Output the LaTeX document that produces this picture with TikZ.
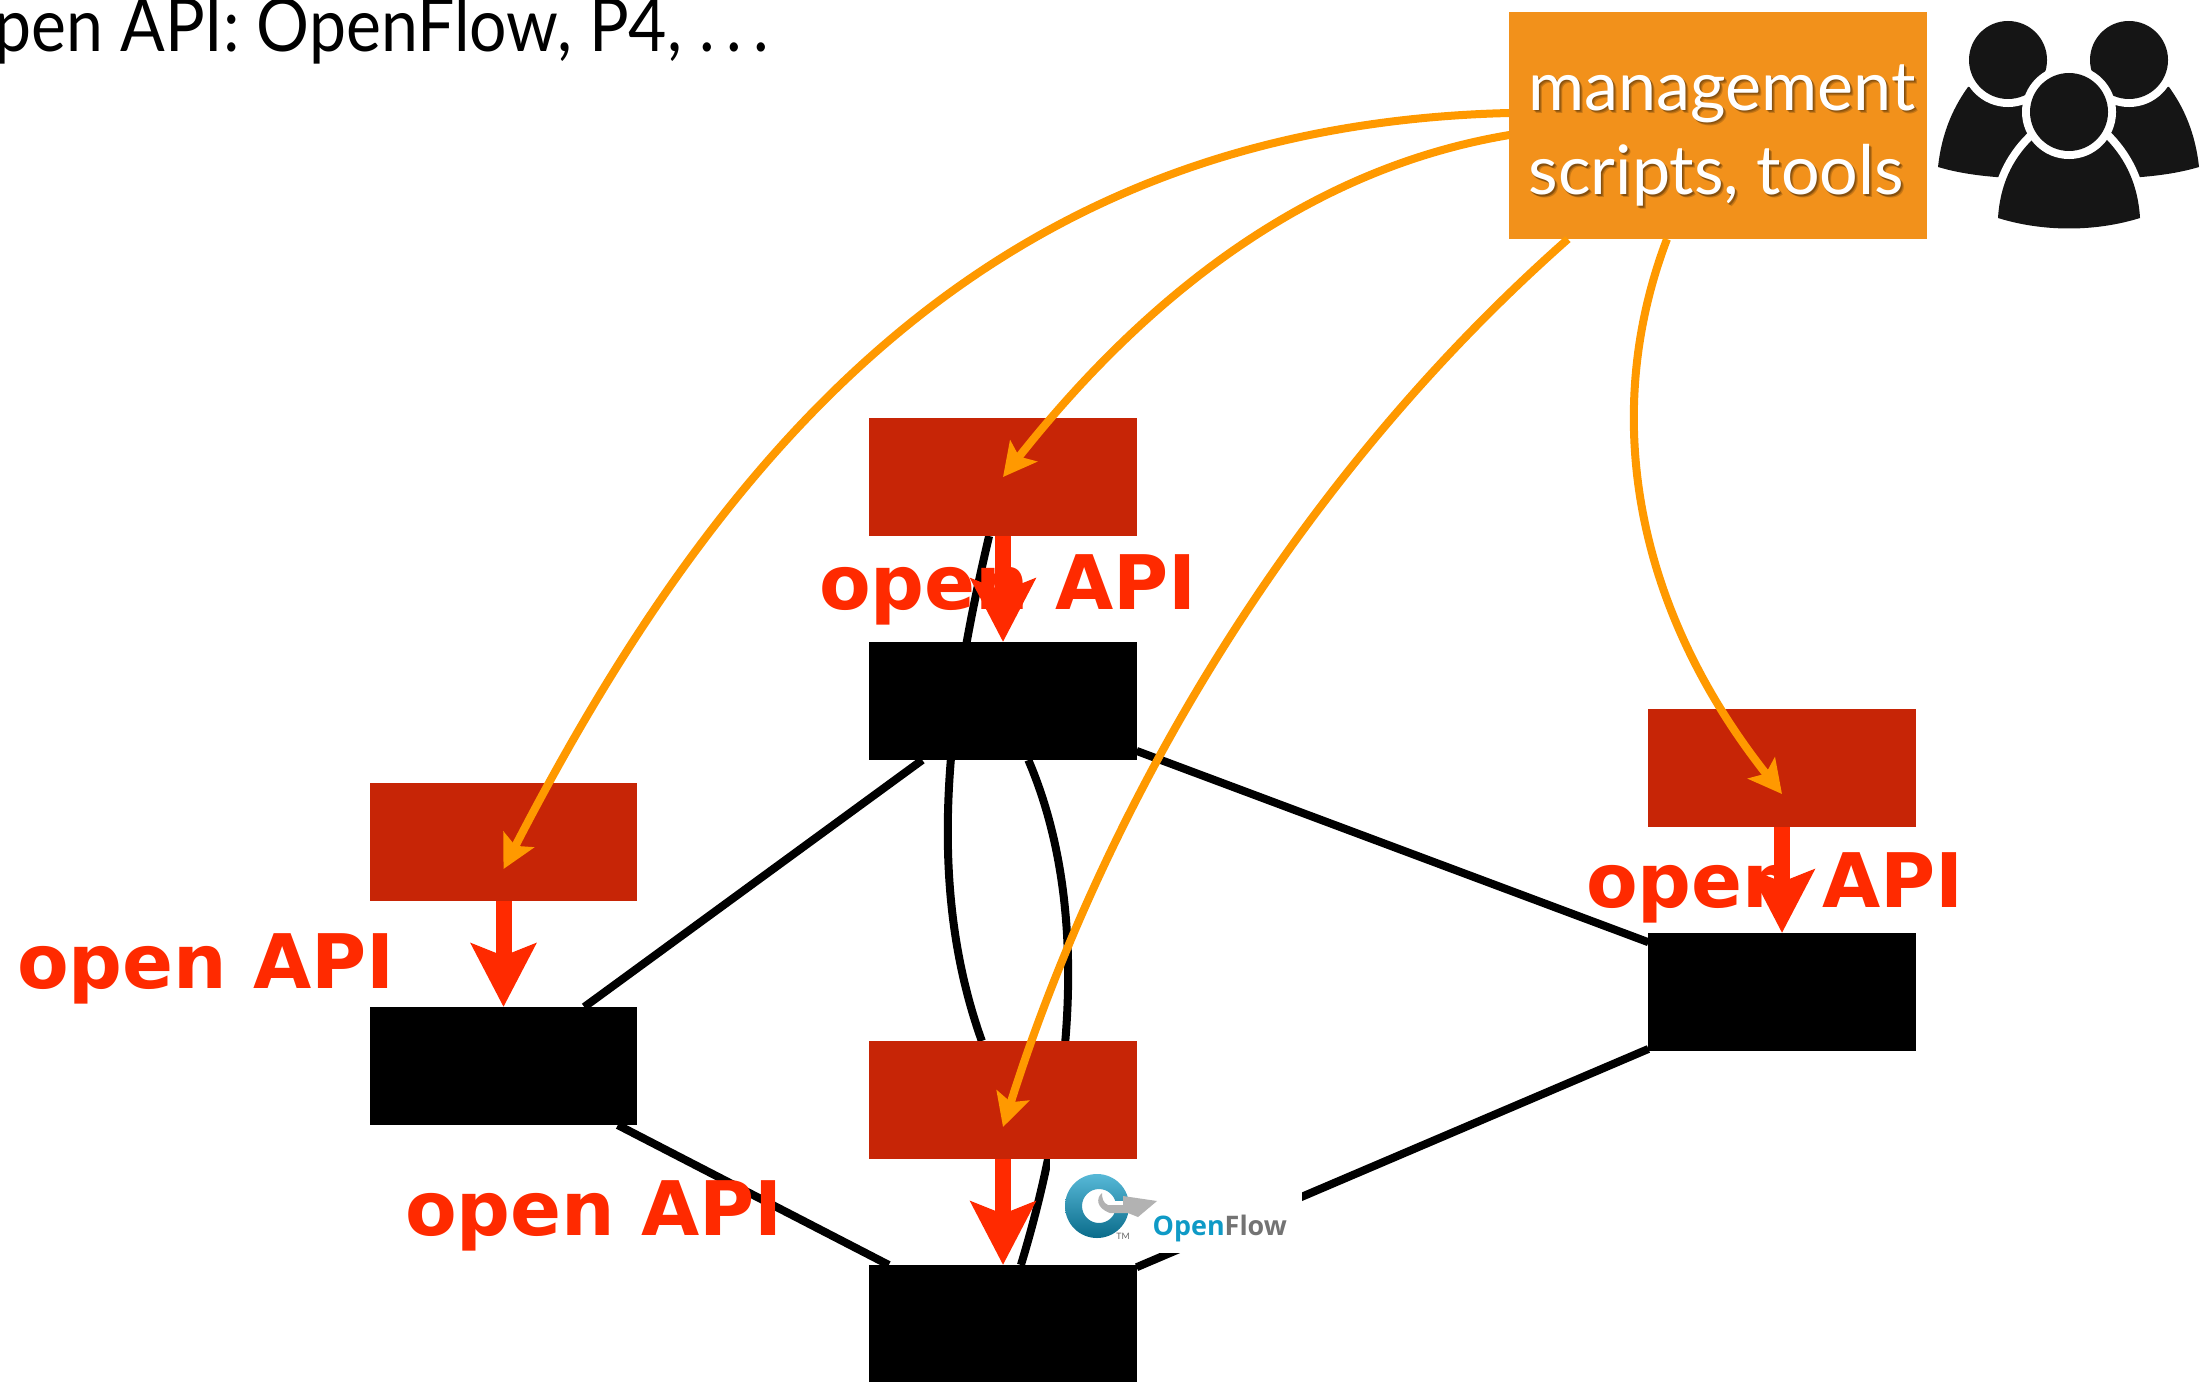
\documentclass[tikz,border=0pt]{standalone}
\usepackage{fontspec}
\setmainfont{Lato}
\newfontfamily\titlefont[FakeStretch=0.895]{Lato}
\newfontfamily\apifont{DejaVu Sans}
\newfontfamily\logofont{Open Sans}
\usetikzlibrary{arrows.meta,backgrounds}
\definecolor{ctrlred}{HTML}{C72506}
\definecolor{apired}{HTML}{FF2A00}
\definecolor{mgmtorange}{HTML}{F2911B}
\definecolor{callorange}{HTML}{FF9900}
\definecolor{logoblue}{HTML}{0F9AC6}
\definecolor{persondark}{HTML}{151515}
\tikzset{
  ctrlbox/.style={fill=ctrlred, inner sep=0, outer sep=0, minimum width=2.67cm, minimum height=1.18cm},
  swbox/.style={fill=black, inner sep=0, outer sep=0, minimum width=2.67cm, minimum height=1.18cm},
  netlink/.style={line width=0.08cm, black},
  apiarrow/.style={line width=0.16cm, apired, -{Stealth[length=0.63cm, width=0.64cm, inset=0.12cm]}},
  callarrow/.style={line width=0.08cm, callorange, -{Stealth[length=0.33cm, width=0.34cm, inset=0.07cm]}},
  apilabel/.style={apired, anchor=base, inner sep=0, font=\apifont\bfseries\fontsize{21.4}{25}\selectfont},
  mgmttext/.style={anchor=base west, inner sep=0, align=left, font=\fontsize{19.4}{24.1}\selectfont},
  personfill/.style={fill=persondark, preaction={draw=white, line width=0.16cm}}
}
\begin{document}
\begin{tikzpicture}[x=0.01cm, y=-0.01cm]
\useasboundingbox (0, 0) rectangle (2203, 1382);
%Boxes
\node[ctrlbox] (ctrltop) at (1003, 477) {};
\node[swbox] (swtop) at (1003, 701) {};
\node[ctrlbox] (ctrlleft) at (503.5, 842) {};
\node[swbox] (swleft) at (503.5, 1066) {};
\node[ctrlbox] (ctrlbottom) at (1003, 1100) {};
\node[swbox] (swbottom) at (1003, 1324) {};
\node[ctrlbox] (ctrlright) at (1782, 768) {};
\node[swbox] (swright) at (1782, 992) {};
\node[fill=mgmtorange, inner sep=0, outer sep=0, minimum width=4.17cm, minimum height=2.27cm] (mgmt) at (1718, 125.5) {};
%Links
\begin{pgfonlayer}{background}
\draw[netlink] (swleft) -- (swtop);
\draw[netlink] (swleft) -- (swbottom);
\draw[netlink] (swtop) -- (swright);
\draw[netlink] (swright) -- (swbottom);
\draw[netlink] (swtop) .. controls (1097, 920) and (1065, 1120) .. (swbottom);
\draw[netlink] (ctrltop) .. controls (949, 706) and (924, 880) .. (ctrlbottom);
\end{pgfonlayer}
%OpenFlow logo
\node[fill=white, inner sep=0, minimum width=2.52cm, minimum height=0.94cm] (logobg) at (1176, 1206) {};
\shade[even odd rule, top color=logoblue!70!white, bottom color=logoblue!70!black] (1097, 1206) circle (32) (1099, 1206) circle (17);
\fill[white] (1112, 1201) rectangle (1132, 1213);
\fill[black!30] (1102, 1193) .. controls (1096, 1198) and (1096, 1208) .. (1110, 1213) -- (1128, 1213) -- (1138, 1217) -- (1157, 1201) -- (1123, 1196) -- (1123, 1205) -- (1108, 1205) .. controls (1103, 1203) and (1102, 1198) .. cycle;
\node[anchor=base west, inner sep=0, font=\logofont\bfseries\fontsize{7.65}{10}\selectfont] (logotext) at (1152, 1235) {\textcolor{logoblue}{Open}\textcolor{black!55}{Flow}};
\node[inner sep=0, black!60, font=\fontsize{2.5}{3}\selectfont] (logotm) at (1123, 1236) {TM};
%API arrows
\draw[apiarrow] (ctrltop.south) -- (swtop.north);
\draw[apiarrow] (ctrlleft.south) -- (swleft.north);
\draw[apiarrow] (ctrlbottom.south) -- (swbottom.north);
\draw[apiarrow] (ctrlright.south) -- (swright.north);
\node[apilabel] (apitop) at (1008, 609) {open API};
\node[apilabel] (apileft) at (206, 988) {open API};
\node[apilabel] (apibottom) at (594, 1235) {open API};
\node[apilabel] (apiright) at (1775, 907) {open API};
%Management calls
\draw[callarrow] ([yshift=0.125cm]mgmt.west) .. controls (1010, 125) and (733, 424) .. ([yshift=-0.27cm]ctrlleft.center);
\draw[callarrow] ([yshift=-0.095cm]mgmt.west) .. controls (1300, 170) and (1139, 305) .. (ctrltop.center);
\draw[callarrow] ([xshift=-1.5cm]mgmt.south) .. controls (1268, 504) and (1093, 842) .. ([yshift=-0.27cm]ctrlbottom.center);
\draw[callarrow] ([xshift=-0.51cm]mgmt.south) .. controls (1600, 415) and (1635, 608) .. ([yshift=-0.26cm]ctrlright.center);
%Management text
\foreach \off/\shadeop in {1/0.3, 2/0.3, 3/0.25}
  \node[mgmttext, text=black!70!mgmtorange, opacity=\shadeop] (mgmtshade\off) at (1528 + \off, 195 + \off) {management\\scripts, tools};
\node[mgmttext, white] (mgmtlabel) at (1528, 195) {management\\scripts, tools};
%Title
\node[anchor=base east, inner sep=0, font=\titlefont\fontsize{21}{26}\selectfont] (title) at (770, 52) {pen API: OpenFlow, P4, .\hspace{0.16em}.\hspace{0.16em}.};
%People
\fill[persondark] (1938, 167) .. controls (1942, 130) and (1955, 105) .. (1968, 87) -- (2040, 85) -- (2040, 178) -- (2010, 178) .. controls (1975, 176) and (1955, 172) .. cycle;
\fill[persondark] (2199, 167) .. controls (2195, 130) and (2182, 105) .. (2169, 87) -- (2097, 85) -- (2097, 178) -- (2127, 178) .. controls (2162, 176) and (2182, 172) .. cycle;
\fill[personfill] (2008, 60) circle (39);
\fill[personfill] (2129, 60) circle (39);
\fill[personfill] (1998, 218) .. controls (2000, 185) and (2012, 160) .. (2032, 140) -- (2069, 125) -- (2107, 140) .. controls (2126, 160) and (2138, 185) .. (2140, 218) .. controls (2095, 232) and (2043, 232) .. cycle;
\fill[personfill] (2069, 112) circle (39);
\end{tikzpicture}
\end{document}
